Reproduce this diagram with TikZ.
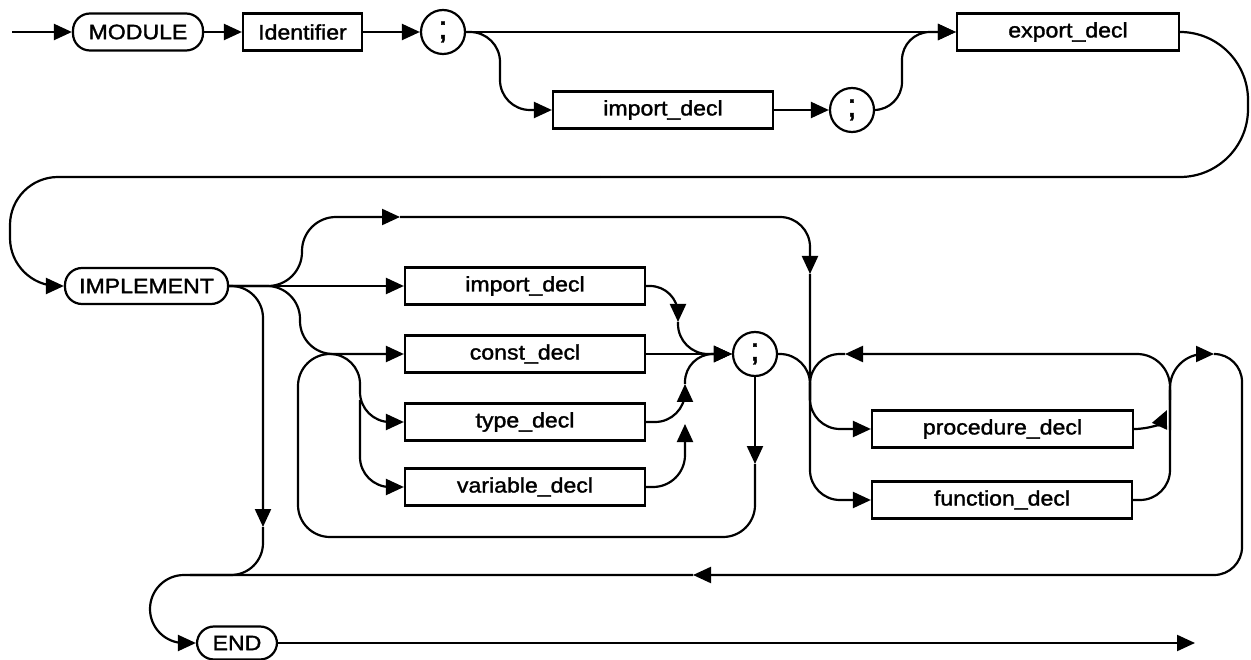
\documentclass[tikz,border=0pt]{standalone}
\usepackage{fontspec}
\setmainfont{Liberation Sans}[FakeStretch=1.1,FakeBold=1.5]
\usetikzlibrary{arrows.meta}
\begin{document}
\begin{tikzpicture}[x=1pt,y=-1pt,
  conn/.style={line width=2.2pt, line join=round},
  arr/.style={-{Triangle[length=18pt,width=16pt]}},
  nt/.style={draw, line width=2.2pt, minimum height=37pt, inner sep=0pt, font=\fontsize{21}{24}\selectfont},
  term/.style={nt, rounded corners=17pt},
  semi/.style={draw, circle, line width=2.2pt, minimum size=44pt, inner sep=0pt, font=\fontsize{32}{32}\selectfont}
]
\useasboundingbox (0,0) rectangle (1251,660);
\fill[white] (0,0) rectangle (1251,660);

% ---- nodes ----
\node[term, minimum width=130pt] (module) at (138,32) {MODULE};
\node[nt, minimum width=119pt] (ident) at (302.5,32) {Identifier};
\node[semi] (sc1) at (443,32) {;};
\node[nt, minimum width=220pt] (imp1) at (663,110) {import\_decl};
\node[semi] (sc2) at (852,110) {;};
\node[nt, minimum width=222pt] (export) at (1068,32) {export\_decl};

\node[term, minimum width=163pt, minimum height=36pt] (impl) at (146.5,286) {IMPLEMENT};
\node[nt, minimum width=240pt] (imp2) at (525,286) {import\_decl};
\node[nt, minimum width=240pt] (const) at (525,354) {const\_decl};
\node[nt, minimum width=240pt] (type) at (525,422) {type\_decl};
\node[nt, minimum width=240pt] (var) at (525,487) {variable\_decl};
\node[semi] (sc3) at (755,354) {;};
\node[nt, minimum width=261pt] (proc) at (1002.5,429) {procedure\_decl};
\node[nt, minimum width=260pt] (func) at (1002,500) {function\_decl};
\node[term, minimum width=80pt, minimum height=33pt] (end) at (237,643) {END};

% ---- coordinates ----
\coordinate (start) at (12,32);
\coordinate (ret1) at (600,177);
\coordinate (topA) at (400,217);
\coordinate (topB) at (810,274);
\coordinate (byA) at (263,527);
\coordinate (byB) at (190,575);
\coordinate (retA) at (693,575);
\coordinate (finish) at (1195,643);
\coordinate (jc) at (330,354);
\coordinate (jt) at (360,400);
\coordinate (impA) at (678,322);
\coordinate (typA) at (685,384);
\coordinate (varA) at (685,424);
\coordinate (scD) at (755,464);
\coordinate (m1) at (810,400);
\coordinate (pj) at (810,385);
\coordinate (loopA) at (845,354);
\coordinate (rj) at (1170,430);
\coordinate (rj2) at (1170,390);
\coordinate (rj3) at (1170,400);
\coordinate (procA) at (1167,410);
\coordinate (humpA) at (1214,354);

% ---- row 1 ----
\draw[conn,arr] (start) -- (module);
\draw[conn,arr] (module) -- (ident);
\draw[conn,arr] (ident) -- (sc1);
\draw[conn,arr] (sc1) -- (export);
\draw[conn,arr,rounded corners=30] (sc1.east) -- (500,32) -- (500,110) -- (imp1.west);
\draw[conn,arr] (imp1) -- (sc2);
\draw[conn,arr,rounded corners=28] (sc2.east) -- (902,110) -- (902,32) -- (export.west);
\draw[conn,rounded corners=68] (export.east) -- (1248,32) -- (1248,177) -- (ret1);
\draw[conn,arr,rounded corners=48] (ret1) -- (10,177) -- (10,286) -- (impl.west);

% ---- IMPLEMENT branches ----
\draw[conn,arr] (impl) -- (imp2);
\draw[conn,arr,rounded corners=34] (impl.east) -- (302,286) -- (302,217) -- (topA);
\draw[conn,arr,rounded corners=33] (impl.east) -- (300,286) -- (300,354) -- (const.west);
\draw[conn,arr,rounded corners=30] (topA) -- (810,217) -- (topB);
\draw[conn,arr,rounded corners=30] (topB) -- (810,500) -- (func.west);
\draw[conn,arr,rounded corners=32] (impl.east) -- (263,286) -- (byA);
\draw[conn,rounded corners=32] (byA) -- (263,575) -- (byB);

% ---- declaration column ----
\draw[conn,arr,rounded corners=30] (jc) -- (360,354) -- (360,422) -- (type.west);
\draw[conn,arr,rounded corners=30] (jt) -- (360,487) -- (var.west);
\draw[conn,arr,rounded corners=28] (imp2.east) -- (678,286) -- (impA);
\draw[conn,arr,rounded corners=30] (impA) -- (678,354) -- (sc3.west);
\draw[conn,arr] (const) -- (sc3);
\draw[conn,arr,rounded corners=30] (type.east) -- (685,422) -- (typA);
\draw[conn,arr,rounded corners=28] (typA) -- (685,354) -- (sc3.west);
\draw[conn,arr,rounded corners=32] (var.east) -- (685,487) -- (varA);
\draw[conn,arr] (sc3.south) -- (scD);
\draw[conn,rounded corners=32] (scD) -- (755,537) -- (298,537) -- (298,354) -- (jc);
\draw[conn,rounded corners=30] (sc3.east) -- (810,354) -- (m1);

% ---- procedure / function ----
\draw[conn,arr,rounded corners=30] (pj) -- (810,429) -- (proc.west);
\draw[conn,arr,rounded corners=33] (rj) -- (1170,354) -- (loopA);
\draw[conn,rounded corners=30] (loopA) -- (810,354) -- (pj);
\draw[conn,arr] (proc.east) .. controls (1150,429) and (1161,423) .. (procA);
\draw[conn,rounded corners=30] (func.east) -- (1170,500) -- (rj2);
\draw[conn,arr,rounded corners=34] (rj3) -- (1170,354) -- (humpA);
\draw[conn,arr,rounded corners=28] (humpA) -- (1242,354) -- (1242,575) -- (retA);
\draw[conn,arr,rounded corners=34] (retA) -- (150,575) -- (150,643) -- (end.west);
\draw[conn,arr] (end) -- (finish);
\end{tikzpicture}
\end{document}
